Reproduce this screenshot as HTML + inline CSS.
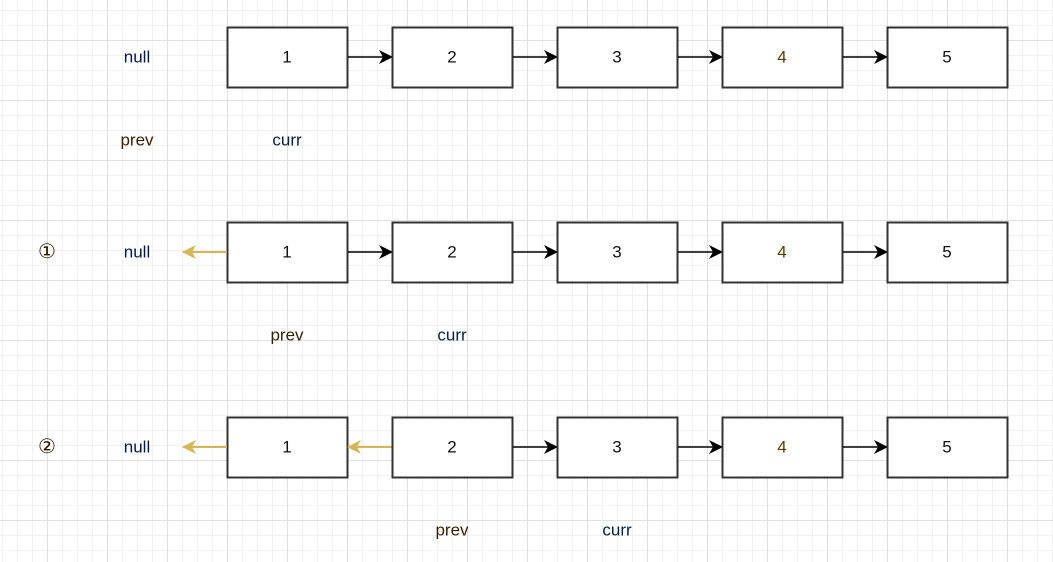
<!DOCTYPE html>
<html><head><meta charset="utf-8"><style>
html,body{margin:0;padding:0;}
body{width:1053px;height:562px;overflow:hidden;background:#fff;
background-image:
linear-gradient(to right,#e0e0e0 1px,transparent 1px),
linear-gradient(to bottom,#e0e0e0 1px,transparent 1px),
linear-gradient(to right,#f2f2f2 1px,transparent 1px),
linear-gradient(to bottom,#f2f2f2 1px,transparent 1px);
background-size:60px 60px,60px 60px,15px 15px,15px 15px;
background-position:47px 40px,47px 40px,47px 40px,47px 40px;
font-family:"Liberation Sans",Arial,sans-serif;position:relative;}
svg{position:absolute;left:0;top:0}
text{font-family:"Liberation Sans",Arial,sans-serif;font-size:17px;text-anchor:middle;dominant-baseline:central;fill:#111}
</style></head><body>
<svg width="1053" height="562">
<defs>
<marker id="ab" markerWidth="14" markerHeight="14" refX="13" refY="7" orient="auto" markerUnits="userSpaceOnUse"><path d="M0,0 L14,7 L0,14 L4,7z" fill="#000"/></marker>
<marker id="ag" markerWidth="14" markerHeight="14" refX="13" refY="7" orient="auto" markerUnits="userSpaceOnUse"><path d="M0,0 L14,7 L0,14 L4,7z" fill="#d6b656"/></marker>
</defs>
</svg>
<script>
const s=document.querySelector('svg');let h='';
const ys=[57,252,447];const xs=[227,392,557,722,887];
ys.forEach((cy,ri)=>{
 xs.forEach((x,i)=>{
  h+=`<rect x="${x}.5" y="${cy-30}.5" width="120" height="60" fill="#fff" stroke="#333" stroke-width="2"/>`;
  h+=`<text x="${x+60}" y="${cy}" ${i==3?'style="fill:#5a3a00"':''}>${i+1}</text>`;
  if(i<4){
   const rev=(ri==2&&i==0);
   if(rev) h+=`<line x1="${x+165}" y1="${cy}" x2="${x+121}" y2="${cy}" stroke="#d6b656" stroke-width="2" marker-end="url(#ag)"/>`;
   else h+=`<line x1="${x+121}" y1="${cy}" x2="${x+165}" y2="${cy}" stroke="#000" stroke-width="1.5" marker-end="url(#ab)"/>`;
  }
 });
 h+=`<text x="137" y="${cy}" style="fill:#001a4d">null</text>`;
 if(ri>0){h+=`<line x1="227" y1="${cy}" x2="183" y2="${cy}" stroke="#d6b656" stroke-width="2" marker-end="url(#ag)"/>`;
  h+=`<text x="47" y="${cy}" style="fill:#2a1500;font-size:20px">${ri==1?'①':'②'}</text>`;}
});
const lab=[[137,287,140],[287,452,335],[452,617,530]];
lab.forEach(([p,c,y])=>{h+=`<text x="${p}" y="${y}" style="fill:#3a1f00">prev</text><text x="${c}" y="${y}" style="fill:#002244">curr</text>`;});
s.insertAdjacentHTML('beforeend',h);
</script>
</body></html>
